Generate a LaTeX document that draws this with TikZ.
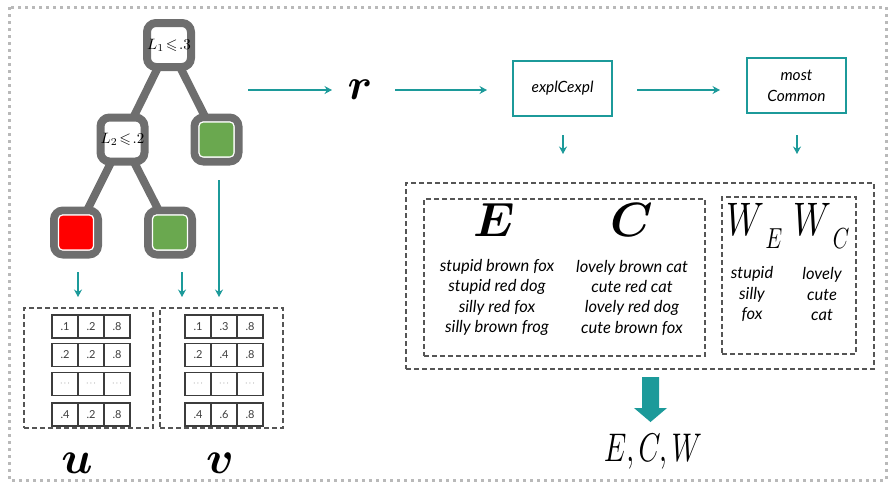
\documentclass[tikz,border=0pt]{standalone}
\usepackage{amssymb}
\usepackage{graphicx}
\usepackage{fontspec}
\setmainfont{Lato}
\usetikzlibrary{arrows.meta,backgrounds}
\definecolor{tealc}{RGB}{28,154,154}
\definecolor{treegray}{RGB}{110,110,110}
\definecolor{leafgreen}{RGB}{106,168,79}
\definecolor{leafred}{RGB}{255,0,0}
\definecolor{dashgray}{RGB}{85,85,85}
\definecolor{dotgray}{RGB}{185,185,185}
\definecolor{numgray}{RGB}{60,60,60}
\newcommand{\dd}{\raisebox{0.1em}{\footnotesize$\cdots$}}
\begin{document}
\begin{tikzpicture}[x=1pt,y=-1pt,
  treebox/.style={draw=treegray,line width=8pt,rounded corners=9pt,fill=white,minimum size=44pt,inner sep=0pt},
  leafin/.style={draw=white,line width=1.2pt,rounded corners=4pt,minimum size=35pt,inner sep=0pt},
  treeedge/.style={draw=treegray,line width=8pt},
  conn/.style={draw=tealc,line width=1.6pt,-{Stealth[length=7.5pt,width=8pt,inset=2.5pt]}},
  tealbox/.style={draw=tealc,line width=1.6pt,inner sep=0pt,align=center,font=\fontsize{15.5}{21}\selectfont\itshape},
  dbox/.style={draw=dashgray,line width=1.3pt,dash pattern=on 5pt off 3pt,inner sep=0pt},
  cell/.style={draw=numgray,line width=1.5pt,minimum width=26pt,minimum height=23pt,inner sep=0pt,text=numgray,font=\fontsize{11}{12}\selectfont},
  listtxt/.style={align=center,inner sep=0pt,font=\fontsize{16.5}{20.3}\selectfont\itshape},
  bigmath/.style={inner sep=0pt}
]
\useasboundingbox (0,0) rectangle (890,483);
\draw[dotgray,line width=3pt,dash pattern=on 3pt off 4pt] (9,7) rectangle (886,480);

% tree
\node[treebox] (root) at (169,45) {\scalebox{1.5}{$L_1\!\leqslant\!.3$}};
\node[treebox] (l2) at (122.5,139.5) {\scalebox{1.5}{$L_2\!\leqslant\!.2$}};
\node[treebox] (g1) at (216.5,139.5) {};
\node[treebox] (rd) at (76,232.5) {};
\node[treebox] (g2) at (170,232.5) {};
\node[leafin,fill=leafgreen] (g1in) at (g1) {};
\node[leafin,fill=leafred] (rdin) at (rd) {};
\node[leafin,fill=leafgreen] (g2in) at (g2) {};
\begin{scope}[on background layer]
\draw[treeedge] (root.center) -- (l2.center);
\draw[treeedge] (root.center) -- (g1.center);
\draw[treeedge] (l2.center) -- (rd.center);
\draw[treeedge] (l2.center) -- (g2.center);
\end{scope}

% tables
\node[dbox,minimum width=129pt,minimum height=120pt] (ubox) at (88.5,368) {};
\node[dbox,minimum width=123pt,minimum height=120pt] (vbox) at (221.5,368) {};
\foreach \y/\a/\b/\c [count=\r] in {326.5/.1/.2/.8,355/.2/.2/.8,384/\dd/\dd/\dd,414.5/.4/.2/.8}{
  \node[cell] (u\r a) at (65,\y) {\a};
  \node[cell] (u\r b) at (91,\y) {\b};
  \node[cell] (u\r c) at (117,\y) {\c};
}
\foreach \y/\a/\b/\c [count=\r] in {326.5/.1/.3/.8,355/.2/.4/.8,384/\dd/\dd/\dd,414.5/.4/.6/.8}{
  \node[cell] (v\r a) at (198,\y) {\a};
  \node[cell] (v\r b) at (224,\y) {\b};
  \node[cell] (v\r c) at (250,\y) {\c};
}
\node[bigmath] (ulab) at (77,463) {\scalebox{4.6}{\boldmath$u$}};
\node[bigmath] (vlab) at (220,463) {\scalebox{4.6}{\boldmath$v$}};

\coordinate (a1s) at (78,272);   \coordinate (a1e) at (78,297);
\coordinate (a2s) at (182,272);  \coordinate (a2e) at (182,297);
\coordinate (a3s) at (219,180);  \coordinate (a3e) at (219,297);
\draw[conn] (a1s) -- (a1e);
\draw[conn] (a2s) -- (a2e);
\draw[conn] (a3s) -- (a3e);

% top flow
\node[bigmath] (r) at (360,90) {\scalebox{4.4}{\boldmath$r$}};
\node[tealbox,minimum width=99pt,minimum height=55pt] (expl) at (562.5,88.5) {explCexpl};
\node[tealbox,minimum width=99pt,minimum height=55pt] (most) at (796.5,85.5) {most\\Common};
\coordinate (t1s) at (248,90); \coordinate (t1e) at (332,90);
\coordinate (t2s) at (395,90); \coordinate (t2e) at (487,90);
\coordinate (t3s) at (637,90); \coordinate (t3e) at (720,90);
\draw[conn] (t1s) -- (t1e);
\draw[conn] (t2s) -- (t2e);
\draw[conn] (t3s) -- (t3e);
\coordinate (d1s) at (563,135); \coordinate (d1e) at (563,154);
\coordinate (d2s) at (797,135); \coordinate (d2e) at (797,154);
\draw[conn] (d1s) -- (d1e);
\draw[conn] (d2s) -- (d2e);

% result boxes
\node[dbox,minimum width=468pt,minimum height=186pt] (outer) at (640,276) {};
\node[dbox,minimum width=281pt,minimum height=157pt] (ecbox) at (564.5,277.5) {};
\node[dbox,minimum width=134pt,minimum height=157pt] (wbox) at (789,275.5) {};
\node[bigmath] (E) at (494,220) {\scalebox{4.8}{\boldmath$E$}};
\node[bigmath] (C) at (632,220) {\scalebox{4.8}{\boldmath$C$}};
\node[bigmath] (WE) at (745,219) {\scalebox{3.5}[4.7]{$W$}};
\node[bigmath] (WEs) at (774,239) {\scalebox{2.1}[2.9]{$E$}};
\node[bigmath] (WC) at (812,219) {\scalebox{3.5}[4.7]{$W$}};
\node[bigmath] (WCs) at (841,239) {\scalebox{2.1}[2.9]{$C$}};
\node[listtxt] (Elist) at (497,297.5) {stupid brown fox\\stupid red dog\\silly red fox\\silly brown frog};
\node[listtxt] (Clist) at (632,297.5) {lovely brown cat\\cute red cat\\lovely red dog\\cute brown fox};
\node[listtxt] (WElist) at (752,294) {stupid\\silly\\fox};
\node[listtxt] (WClist) at (822,294) {lovely\\cute\\cat};

% big arrow
\fill[tealc] (642,377) -- (659,377) -- (659,408) -- (667,408) -- (650.5,422) -- (634,408) -- (642,408) -- cycle;
\node[inner sep=0pt] (ecw) at (653,452) {\scalebox{2.8}[4]{$E,C,W$}};
\end{tikzpicture}
\end{document}
